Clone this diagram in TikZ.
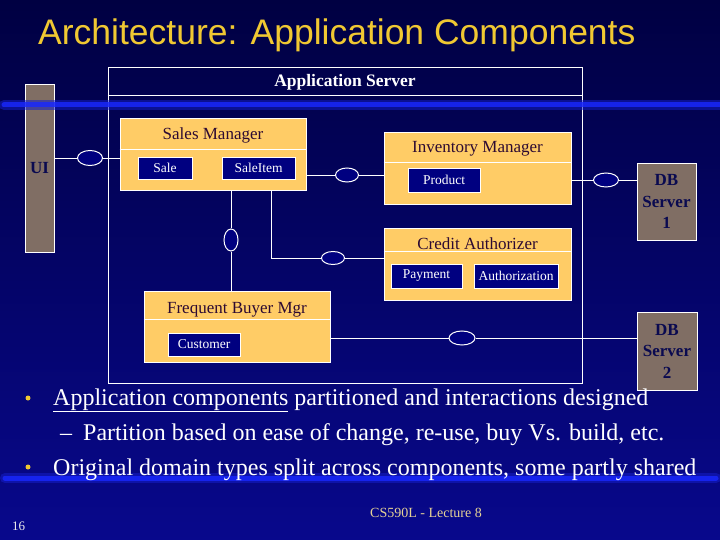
\documentclass[tikz,border=0pt]{standalone}
\usepackage{fontspec}
\setmainfont{Liberation Serif}
\newfontfamily\slidesans{Liberation Sans}
\usepackage{xcolor}
\usetikzlibrary{shapes.geometric, positioning, calc}

\definecolor{bgtop}{RGB}{0,0,66}
\definecolor{bgbot}{RGB}{8,8,140}
\definecolor{barcore}{RGB}{25,40,255}
\definecolor{barglow}{RGB}{20,30,200}
\definecolor{titleyellow}{RGB}{240,200,50}
\definecolor{compfill}{RGB}{255,204,102}
\definecolor{compink}{RGB}{45,10,50}
\definecolor{clsnavy}{RGB}{0,0,128}
\definecolor{nodebrown}{RGB}{128,110,100}
\definecolor{dbink}{RGB}{10,10,80}
\definecolor{footink}{RGB}{230,210,150}

\begin{document}
\begin{tikzpicture}[x=1pt, y=-1pt,
    comp/.style={draw=white, fill=compfill, line width=0.8pt, minimum width=186pt, minimum height=72pt, inner sep=0pt},
    comptitle/.style={font=\fontsize{17}{20}\selectfont, text=compink, inner sep=0pt, anchor=base},
    cls/.style={draw=white, fill=clsnavy, line width=0.8pt, text=white, minimum height=23pt, inner sep=0pt, font=\fontsize{13.5}{16}\selectfont},
    iface/.style={ellipse, draw=white, fill=clsnavy, line width=1pt, minimum width=24pt, minimum height=14pt, inner sep=0pt},
    tier/.style={draw=white, fill=nodebrown, line width=0.8pt, inner sep=0pt, align=center, text=dbink, font=\fontsize{17}{21.5}\selectfont\bfseries},
    link/.style={draw=white, line width=0.8pt},
    bar/.style={line cap=round},
    bullettext/.style={font=\fontsize{24}{28}\selectfont, text=white, anchor=base west, inner sep=0pt},
    dot/.style={circle, fill=titleyellow, minimum size=5pt, inner sep=0pt},
]

% Background
\fill[top color=bgtop, bottom color=bgbot] (0,0) rectangle (720,540);
\useasboundingbox (0,0) rectangle (720,540);

% Title
\node[font=\slidesans\fontsize{35.5}{40}\selectfont, text=titleyellow, anchor=base west, inner sep=0pt] (title) at (38,45) {Architecture: Application Components};

% Application Server
\node[draw=white, line width=0.8pt, minimum width=474pt, minimum height=316pt, inner sep=0pt] (appserver) at (345,225) {};
\node[font=\fontsize{17.5}{20}\selectfont\bfseries, text=white, anchor=base, inner sep=0pt] (appservertitle) at (345,87) {Application Server};
\draw[link] ([yshift=-29pt]appserver.north west) -- ([yshift=-29pt]appserver.north east);

% UI
\node[tier, minimum width=29pt, minimum height=168pt] (ui) at (39.5,168) {UI};

% Sales Manager
\node[comp] (salesmgr) at (213,154) {};
\node[comptitle] (salesmgrtitle) at (213,140) {Sales Manager};
\draw[link] ([yshift=-32pt]salesmgr.north west) -- ([yshift=-32pt]salesmgr.north east);
\node[cls, minimum width=54pt, minimum height=22pt] (sale) at (165,168) {Sale};
\node[cls, minimum width=73pt, minimum height=22pt] (saleitem) at (258.5,168) {SaleItem};

% Inventory Manager
\node[comp, minimum width=187pt] (invmgr) at (477.5,168) {};
\node[comptitle] (invmgrtitle) at (477.5,153) {Inventory Manager};
\draw[link] ([yshift=-31pt]invmgr.north west) -- ([yshift=-31pt]invmgr.north east);
\node[cls, minimum width=72pt, minimum height=24pt] (product) at (444,180) {Product};

% Credit Authorizer
\node[comp, minimum width=187pt] (credit) at (477.5,264) {};
\node[comptitle] (credittitle) at (477.5,249) {Credit Authorizer};
\draw[link] ([yshift=-24pt]credit.north west) -- ([yshift=-24pt]credit.north east);
\node[cls, minimum width=71pt, minimum height=24pt] (payment) at (426.5,276) {Payment};
\node[cls, minimum width=84pt, minimum height=24pt] (authorization) at (516,276) {Authorization};

% Frequent Buyer Mgr
\node[comp, minimum height=71pt] (buyer) at (237,326.5) {};
\node[comptitle] (buyertitle) at (237,313) {Frequent Buyer Mgr};
\draw[link] ([yshift=-29pt]buyer.north west) -- ([yshift=-29pt]buyer.north east);
\node[cls, minimum width=72pt, minimum height=23pt] (customer) at (204,344.5) {Customer};

% DB Servers
\node[tier, minimum width=59pt, minimum height=77pt] (db1) at (666.5,201.5) {DB\\Server\\1};
\node[tier, minimum width=60pt, minimum height=78pt] (db2) at (667,351) {DB\\Server\\2};

% Interfaces
\node[iface, minimum width=25pt, minimum height=15pt] (uiport) at (90,158) {};
\node[iface, minimum width=23pt] (invport) at (347,175) {};
\node[iface, minimum width=25pt] (db1port) at (606,180) {};
\node[iface, minimum width=23pt, minimum height=13pt] (creditport) at (333,258) {};
\node[iface, minimum width=14pt, minimum height=22pt] (buyerport) at (231,240) {};
\node[iface, minimum width=26pt] (db2port) at (462,338) {};
\coordinate (creditbend) at (271,258);

% Connectors
\draw[link] (ui.east |- uiport) -- (uiport) -- (salesmgr.west |- uiport);
\draw[link] (salesmgr.east |- invport) -- (invport) -- (invmgr.west |- invport);
\draw[link] (invmgr.east |- db1port) -- (db1port) -- (db1.west |- db1port);
\draw[link] (salesmgr.south -| creditbend) -- (creditbend) -- (creditport) -- (credit.west |- creditport);
\draw[link] (salesmgr.south -| buyerport) -- (buyerport) -- (buyer.north -| buyerport);
\draw[link] (buyer.east |- db2port) -- (db2port) -- (db2.west |- db2port);

% Blue bars
\draw[bar, barglow, line width=10pt, opacity=0.55] (4,105) -- (720,105);
\draw[bar, barcore, line width=5pt, opacity=0.8] (4,105) -- (720,105);
\draw[bar, barglow, line width=10pt, opacity=0.55] (5,478) -- (716,478);
\draw[bar, barcore, line width=5pt, opacity=0.8] (5,478) -- (716,478);

% Bullets
\node[dot] (dotone) at (28,398) {};
\node[bullettext] (lineone) at (53,405) {\underline{Application components} partitioned and interactions designed};
\node[bullettext] (dash) at (60,440) {--};
\node[bullettext] (linetwo) at (83,440) {Partition based on ease of change, re-use, buy Vs. build, etc.};
\node[dot] (dotthree) at (28,467) {};
\node[bullettext] (linethree) at (53,475) {Original domain types split across components, some partly shared};

% Footer
\node[font=\fontsize{14}{16}\selectfont, text=footink, anchor=base, inner sep=0pt] (footer) at (426,517) {CS590L - Lecture 8};
\node[font=\fontsize{13}{16}\selectfont, text=white!85!gray, anchor=base west, inner sep=0pt] (pagenum) at (12,530) {16};

\end{tikzpicture}
\end{document}
